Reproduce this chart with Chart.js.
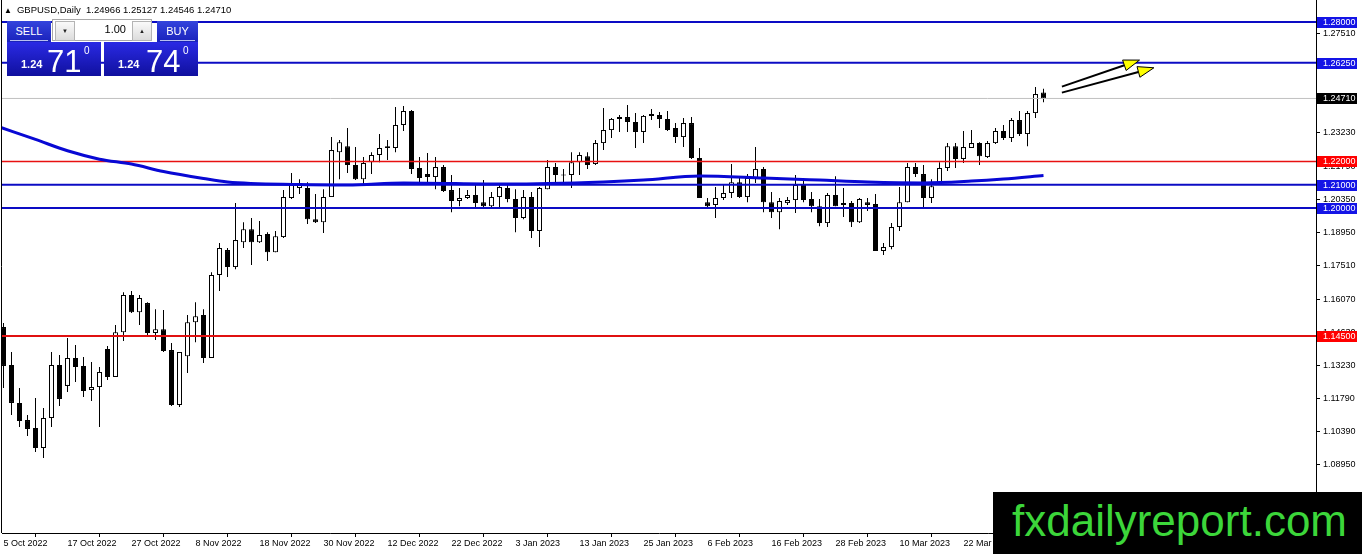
<!DOCTYPE html>
<html>
<head>
<meta charset="utf-8">
<title>GBPUSD Daily</title>
<script src="https://cdn.jsdelivr.net/npm/chart.js@4.4.0/dist/chart.umd.min.js"></script>
<style>
  body { margin: 0; background: #fff; }
  #wrap { position: relative; width: 1362px; height: 554px; overflow: hidden; font-family: "Liberation Sans", Arial, sans-serif; }
  #chart { position: absolute; left: 0; top: 0; }
  #hdr { position: absolute; left: 4px; top: 5px; font-size: 9.5px; color: #000; white-space: pre; line-height: 10px; }
  #hdr .tri { font-size: 8px; margin-right: 5px; }
  .blue { position: absolute; color: #fff; background: linear-gradient(#3344dd, #1a22bb); }
  .btn { top: 21px; height: 21px; font-size: 11px; line-height: 20px; text-align: center; }
  .btn::after { content: ""; position: absolute; left: 3px; right: 3px; bottom: 1px; height: 1px; background: #b8c0f0; }
  #qty { position: absolute; left: 52px; top: 19px; width: 100px; height: 22px; background: #fff; border: 1px solid #a8a8a8; box-sizing: border-box; }
  #qty .arr { position: absolute; top: 1px; width: 18px; height: 18px; background: linear-gradient(#fafafa, #dcdcdc); border: 1px solid #b4b4b4; font-size: 6px; line-height: 18px; text-align: center; color: #222; }
  #qty .val { position: absolute; right: 25px; top: 3px; font-size: 11px; }
  .price { top: 42px; height: 34px; width: 94px; background: linear-gradient(#2a2ae4, #10109e); }
  .price .big { position: absolute; top: 3px; font-size: 31px; line-height: 34px; }
  .price .small { position: absolute; top: 16px; font-size: 11px; font-weight: bold; line-height: 12px; }
  .price .sup { position: absolute; top: 4px; font-size: 10px; line-height: 10px; }
  #mark { position: absolute; left: 993px; top: 492px; width: 369px; height: 62px; background: #000; color: #3cd63a; font-size: 44px; line-height: 58px; padding-left: 19px; box-sizing: border-box; }
</style>
</head>
<body>
<div id="wrap">
  <canvas id="chart" width="1362" height="554"></canvas>
  <div id="hdr"><span class="tri">▲</span>GBPUSD,Daily  1.24966 1.25127 1.24546 1.24710</div>
  <div class="blue btn" style="left:7px; width:44px;">SELL</div>
  <div id="qty">
    <div class="arr" style="left:2px;">▼</div>
    <div class="val">1.00</div>
    <div class="arr" style="left:79px;">▲</div>
  </div>
  <div class="blue btn" style="left:157px; width:41px;">BUY</div>
  <div class="blue price" style="left:7px;">
    <span class="small" style="left:14px;">1.24</span><span class="big" style="left:40px;">71</span><span class="sup" style="left:77px;">0</span>
  </div>
  <div class="blue price" style="left:104px;">
    <span class="small" style="left:14px;">1.24</span><span class="big" style="left:42px;">74</span><span class="sup" style="left:79px;">0</span>
  </div>
  <div id="mark">fxdailyreport.com</div>
</div>

<script>
// Daily bars, 5 Oct 2022 .. early Apr 2023 (index = bar number)
const opens = [
  1.1488, 1.1325, 1.1162, 1.1088, 1.1054, 1.0968, 1.1097, 1.1325, 1.1235, 1.1355,
  1.1321, 1.1217, 1.1230, 1.1394, 1.1273, 1.1466, 1.1626, 1.1552, 1.1591, 1.1462,
  1.1479, 1.1389, 1.1153, 1.1363, 1.1509, 1.1540, 1.1355, 1.1712, 1.1819, 1.1746,
  1.1853, 1.1909, 1.1853, 1.1888, 1.1810, 1.1875, 1.2043, 1.2086, 1.2086, 1.1952,
  1.1939, 1.2047, 1.2240, 1.2266, 1.2185, 1.2124, 1.2197, 1.2228, 1.2258, 1.2258,
  1.2357, 1.2417, 1.2172, 1.2146, 1.2133, 1.2176, 1.2077, 1.2030, 1.2043, 1.2056,
  1.2025, 1.2008, 1.2047, 1.2086, 1.2039, 1.1957, 1.2047, 1.1901, 1.2081, 1.2176,
  1.2140, 1.2142, 1.2197, 1.2223, 1.2189, 1.2279, 1.2335, 1.2383, 1.2391, 1.2370,
  1.2327, 1.2396, 1.2400, 1.2383, 1.2344, 1.2305, 1.2365, 1.2215, 1.2025, 1.2013,
  1.2043, 1.2064, 1.2111, 1.2047, 1.2129, 1.2168, 1.2025, 1.1982, 1.2021, 1.2034,
  1.2099, 1.2039, 1.2008, 1.1935, 1.2056, 1.2013, 1.2021, 1.1939, 1.2025, 1.2017,
  1.1815, 1.1832, 1.1918, 1.2025, 1.2176, 1.2146, 1.2043, 1.2107, 1.2172, 1.2266,
  1.2211, 1.2258, 1.2279, 1.2219, 1.2279, 1.2331, 1.2301, 1.2378, 1.2318, 1.2408,
  1.24966
];
const highs = [
  1.1506, 1.1381, 1.1226, 1.1110, 1.1183, 1.1140, 1.1381, 1.1368, 1.1441, 1.1411,
  1.1359, 1.1338, 1.1316, 1.1407, 1.1497, 1.1638, 1.1643, 1.1626, 1.1595, 1.1565,
  1.1561, 1.1419, 1.1381, 1.1540, 1.1595, 1.1565, 1.1724, 1.1849, 1.1828, 1.2021,
  1.1939, 1.1957, 1.1944, 1.1896, 1.1901, 1.2077, 1.2150, 1.2124, 1.2111, 1.2060,
  1.2081, 1.2305, 1.2292, 1.2344, 1.2262, 1.2219, 1.2240, 1.2318, 1.2292, 1.2434,
  1.2439, 1.2421, 1.2219, 1.2236, 1.2219, 1.2185, 1.2142, 1.2086, 1.2077, 1.2099,
  1.2120, 1.2069, 1.2099, 1.2099, 1.2081, 1.2077, 1.2069, 1.2090, 1.2206, 1.2193,
  1.2168, 1.2240, 1.2240, 1.2240, 1.2292, 1.2430, 1.2387, 1.2400, 1.2443, 1.2409,
  1.2400, 1.2426, 1.2413, 1.2417, 1.2365, 1.2387, 1.2391, 1.2258, 1.2043, 1.2090,
  1.2099, 1.2189, 1.2129, 1.2146, 1.2262, 1.2176, 1.2069, 1.2043, 1.2047, 1.2142,
  1.2120, 1.2069, 1.2039, 1.2064, 1.2137, 1.2086, 1.2030, 1.2043, 1.2043, 1.2060,
  1.1849, 1.1935, 1.2090, 1.2193, 1.2193, 1.2185, 1.2124, 1.2197, 1.2279, 1.2279,
  1.2331, 1.2335, 1.2283, 1.2288, 1.2344, 1.2357, 1.2387, 1.2417, 1.2417, 1.2520,
  1.25127
];
const lows = [
  1.1226, 1.1110, 1.1058, 1.1020, 1.0951, 1.0925, 1.1058, 1.1149, 1.1209, 1.1252,
  1.1187, 1.1170, 1.1058, 1.1260, 1.1273, 1.1428, 1.1548, 1.1497, 1.1454, 1.1432,
  1.1381, 1.1149, 1.1144, 1.1290, 1.1423, 1.1333, 1.1355, 1.1643, 1.1703, 1.1737,
  1.1828, 1.1755, 1.1849, 1.1772, 1.1810, 1.1871, 1.2039, 1.2060, 1.1931, 1.1935,
  1.1892, 1.2047, 1.2124, 1.2150, 1.2120, 1.2103, 1.2146, 1.2197, 1.2206, 1.2240,
  1.2331, 1.2146, 1.2111, 1.2111, 1.2081, 1.2069, 1.1982, 1.2008, 1.2039, 1.2000,
  1.2000, 1.2004, 1.2000, 1.2025, 1.1896, 1.1952, 1.1871, 1.1832, 1.2081, 1.2111,
  1.2099, 1.2086, 1.2142, 1.2168, 1.2185, 1.2249, 1.2301, 1.2327, 1.2327, 1.2258,
  1.2279, 1.2378, 1.2344, 1.2331, 1.2279, 1.2262, 1.2211, 1.2043, 1.2000, 1.1957,
  1.2034, 1.2043, 1.2043, 1.2025, 1.2107, 1.1982, 1.1957, 1.1909, 1.2013, 1.1978,
  1.2025, 1.1982, 1.1922, 1.1918, 1.2008, 1.1961, 1.1918, 1.1935, 1.1987, 1.1815,
  1.1798, 1.1823, 1.1901, 1.2025, 1.2133, 1.2004, 1.2021, 1.2107, 1.2159, 1.2172,
  1.2193, 1.2258, 1.2185, 1.2215, 1.2275, 1.2292, 1.2284, 1.2310, 1.2266, 1.2387,
  1.24546
];
const closes = [
  1.1321, 1.1162, 1.1084, 1.1050, 1.0968, 1.1097, 1.1325, 1.1179, 1.1355, 1.1316,
  1.1213, 1.1230, 1.1295, 1.1273, 1.1466, 1.1626, 1.1552, 1.1613, 1.1462, 1.1479,
  1.1385, 1.1153, 1.1381, 1.1509, 1.1535, 1.1355, 1.1712, 1.1828, 1.1746, 1.1862,
  1.1909, 1.1853, 1.1884, 1.1810, 1.1879, 1.2047, 1.2107, 1.2107, 1.1952, 1.1939,
  1.2047, 1.2249, 1.2283, 1.2185, 1.2124, 1.2193, 1.2228, 1.2258, 1.2266, 1.2357,
  1.2417, 1.2168, 1.2129, 1.2133, 1.2176, 1.2073, 1.2030, 1.2043, 1.2056, 1.2021,
  1.2008, 1.2047, 1.2090, 1.2039, 1.1957, 1.2047, 1.1901, 1.2086, 1.2176, 1.2142,
  1.2144, 1.2197, 1.2228, 1.2185, 1.2279, 1.2335, 1.2383, 1.2391, 1.2370, 1.2327,
  1.2396, 1.2404, 1.2383, 1.2335, 1.2305, 1.2365, 1.2215, 1.2043, 1.2008, 1.2043,
  1.2064, 1.2111, 1.2047, 1.2129, 1.2168, 1.2025, 1.1982, 1.2030, 1.2034, 1.2099,
  1.2034, 1.2008, 1.1935, 1.2056, 1.2008, 1.2021, 1.1939, 1.2039, 1.2013, 1.1815,
  1.1832, 1.1918, 1.2025, 1.2176, 1.2146, 1.2043, 1.2094, 1.2172, 1.2266, 1.2211,
  1.2262, 1.2279, 1.2223, 1.2279, 1.2331, 1.2301, 1.2378, 1.2318, 1.2408, 1.2490,
  1.24710
];

// moving average, read at a few bars
const maBars   = [-0.4, 4, 8, 12, 16, 20, 25, 28, 37, 43, 50, 63, 75, 80, 87, 95, 102, 108, 115, 121, 125, 130];
const maValues = [1.2347, 1.2295, 1.2246, 1.2210, 1.2189, 1.2157, 1.2127, 1.2112, 1.2101, 1.2099, 1.2108,
                  1.2103, 1.2112, 1.2120, 1.2138, 1.2129, 1.2120, 1.2112, 1.2108, 1.2116, 1.2125, 1.2140];

// horizontal levels
const levelPrices = [1.28, 1.2625, 1.2471, 1.22, 1.21, 1.20, 1.145];
const levelColors = ['#0c0cc4', '#0c0cc4', '#c0c0c0', '#e81010', '#0c0cc4', '#0c0cc4', '#e01010'];
const levelWidths = [2, 2, 1, 1.4, 2, 2, 2];
const levelTagColors = ['#1414e6', '#1414e6', '#000000', '#ff0000', '#1414e6', '#1414e6', '#ff0000'];

// axis labels
const dateBars = [0, 8, 16, 24, 32, 40, 48, 56, 64, 72, 80, 88, 96, 104, 112, 120];
const dateLabels = ['5 Oct 2022', '17 Oct 2022', '27 Oct 2022', '8 Nov 2022', '18 Nov 2022', '30 Nov 2022',
  '12 Dec 2022', '22 Dec 2022', '3 Jan 2023', '13 Jan 2023', '25 Jan 2023', '6 Feb 2023', '16 Feb 2023',
  '28 Feb 2023', '10 Mar 2023', '22 Mar 2023'];
const yTicks = [1.0895, 1.1039, 1.1179, 1.1323, 1.1463, 1.1607, 1.1751, 1.1895, 1.2035, 1.2179, 1.2323, 1.2463, 1.2607, 1.2751];

// the two drawn arrows (bar, price)
const arrowFromBar   = [132.3, 132.3];
const arrowFromPrice = [1.2522, 1.2496];
const arrowToBar     = [142.0, 143.8];
const arrowToPrice   = [1.2636, 1.2603];

// view window
const xMin = -0.1875, xMax = 164.0625;
const yMin = 1.06025, yMax = 1.28944;

const wickData = lows.map((l, i) => ({ x: i, y: [l, highs[i]] }));
const bodyData = opens.map((o, i) => ({ x: i, y: [o, closes[i]] }));
const bodyFill = opens.map((o, i) => closes[i] >= o ? '#ffffff' : '#000000');

const levelSets = levelPrices.map((p, k) => ({
    type: 'line',
    data: [{ x: xMin, y: p }, { x: xMax, y: p }],
    borderColor: levelColors[k],
    borderWidth: levelWidths[k],
    pointRadius: 0,
    order: 0
}));

function drawArrow(ctx, x1, y1, x2, y2) {
    const a = Math.atan2(y2 - y1, x2 - x1);
    const len = 16, half = 5.5;
    const bx = x2 - len * Math.cos(a), by = y2 - len * Math.sin(a);
    ctx.strokeStyle = '#000';
    ctx.lineWidth = 2;
    ctx.beginPath();
    ctx.moveTo(x1, y1);
    ctx.lineTo(bx, by);
    ctx.stroke();
    ctx.beginPath();
    ctx.moveTo(x2, y2);
    ctx.lineTo(bx + half * Math.sin(a), by - half * Math.cos(a));
    ctx.lineTo(bx - half * Math.sin(a), by + half * Math.cos(a));
    ctx.closePath();
    ctx.fillStyle = '#ffff00';
    ctx.fill();
    ctx.lineWidth = 1;
    ctx.stroke();
}

const mtDecor = {
    id: 'mtDecor',
    beforeDraw(chart) {
        const ctx = chart.ctx;
        ctx.save();
        ctx.fillStyle = '#fff';
        ctx.fillRect(0, 0, chart.width, chart.height);
        ctx.restore();
    },
    afterDatasetsDraw(chart) {
        const { ctx, chartArea, scales } = chart;
        ctx.save();
        ctx.beginPath();
        ctx.rect(chartArea.left, chartArea.top, chartArea.right - chartArea.left, chartArea.bottom - chartArea.top);
        ctx.clip();
        arrowFromBar.forEach((b, k) => {
            drawArrow(ctx,
                scales.x.getPixelForValue(b), scales.y.getPixelForValue(arrowFromPrice[k]),
                scales.x.getPixelForValue(arrowToBar[k]), scales.y.getPixelForValue(arrowToPrice[k]));
        });
        ctx.restore();
    },
    afterDraw(chart) {
        const { ctx, chartArea, scales } = chart;
        ctx.save();
        // left frame line
        ctx.strokeStyle = '#000';
        ctx.lineWidth = 1;
        ctx.beginPath();
        ctx.moveTo(1.5, 0);
        ctx.lineTo(1.5, chartArea.bottom);
        ctx.stroke();
        // price tags on the right axis
        ctx.font = '9px "Liberation Sans", Arial, sans-serif';
        ctx.textBaseline = 'middle';
        ctx.textAlign = 'left';
        levelPrices.forEach((p, k) => {
            const y = Math.round(scales.y.getPixelForValue(p));
            ctx.fillStyle = levelTagColors[k];
            ctx.fillRect(chartArea.right + 1, y - 5, 40, 11);
            ctx.fillStyle = '#fff';
            ctx.fillText(p.toFixed(5), chartArea.right + 7, y + 0.5);
        });
        ctx.restore();
    }
};

new Chart(document.getElementById('chart'), {
    type: 'bar',
    data: {
        datasets: [
            {
                data: wickData,
                backgroundColor: '#000',
                borderWidth: 0,
                barThickness: 1,
                grouped: false,
                inflateAmount: 0,
                order: 2
            },
            {
                data: bodyData,
                backgroundColor: bodyFill,
                borderColor: '#000',
                borderWidth: 1,
                borderSkipped: false,
                barThickness: 5,
                minBarLength: 1,
                grouped: false,
                inflateAmount: 0,
                order: 1
            },
            {
                type: 'line',
                data: maBars.map((b, i) => ({ x: b, y: maValues[i] })),
                borderColor: '#0808d4',
                borderWidth: 3,
                pointRadius: 0,
                cubicInterpolationMode: 'monotone',
                order: 0
            },
            ...levelSets
        ]
    },
    options: {
        responsive: false,
        animation: false,
        devicePixelRatio: 1,
        layout: { padding: { left: 2, top: 0, right: 0, bottom: 0 } },
        plugins: { legend: { display: false }, tooltip: { enabled: false } },
        scales: {
            x: {
                type: 'linear',
                position: 'bottom',
                min: xMin,
                max: xMax,
                offset: false,
                afterBuildTicks: s => { s.ticks = dateBars.map(v => ({ value: v })); },
                afterFit: s => { s.height = 21; s.paddingLeft = 0; s.paddingRight = 0; },
                ticks: {
                    autoSkip: false,
                    maxRotation: 0,
                    minRotation: 0,
                    align: 'start',
                    padding: 1,
                    color: '#000',
                    font: { family: '"Liberation Sans", Arial, sans-serif', size: 9 },
                    callback: (v, i) => dateLabels[i]
                },
                grid: { drawOnChartArea: false, drawTicks: true, tickLength: 4, color: '#000' },
                border: { display: true, color: '#000', width: 1 }
            },
            y: {
                type: 'linear',
                position: 'right',
                min: yMin,
                max: yMax,
                afterBuildTicks: s => { s.ticks = yTicks.map(v => ({ value: v })); },
                afterFit: s => { s.width = 46; s.paddingTop = 0; s.paddingBottom = 0; },
                ticks: {
                    autoSkip: false,
                    crossAlign: 'near',
                    padding: 3,
                    color: '#000',
                    font: { family: '"Liberation Sans", Arial, sans-serif', size: 9 },
                    callback: v => v.toFixed(5)
                },
                grid: { drawOnChartArea: false, drawTicks: true, tickLength: 4, color: '#000' },
                border: { display: true, color: '#000', width: 1 }
            }
        }
    },
    plugins: [mtDecor]
});
</script>
</body>
</html>
